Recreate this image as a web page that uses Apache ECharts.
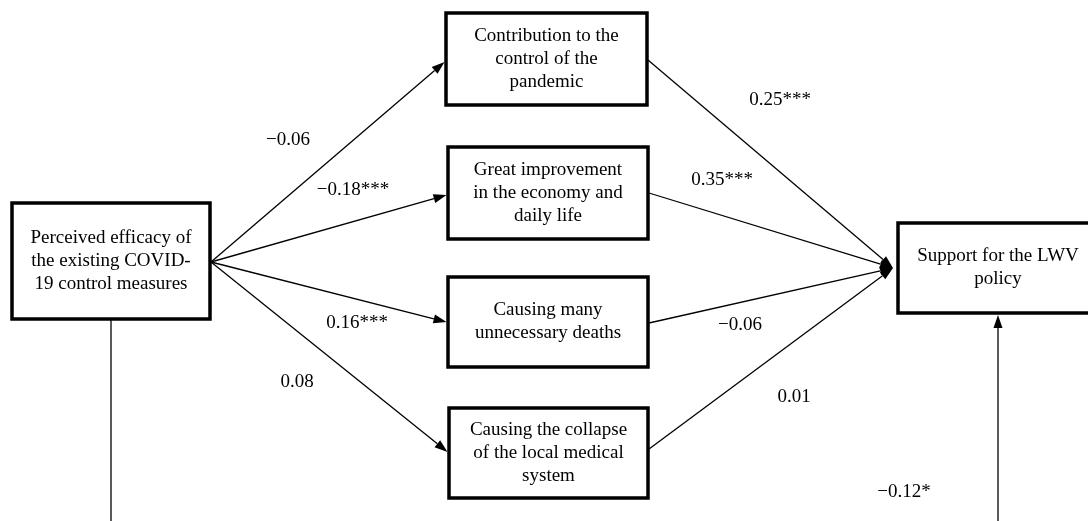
<!DOCTYPE html>
<html>
<head>
<meta charset="utf-8">
<script src="https://cdn.jsdelivr.net/npm/echarts@6/dist/echarts.min.js"></script>
<style>
html, body { margin: 0; padding: 0; background: #fff; }
#main { width: 1088px; height: 521px; }
</style>
</head>
<body>
<div id="main"></div>
<script>
// texts of the path model
var predictor = 'Perceived efficacy of\nthe existing COVID-\n19 control measures';
var mediators = [
    'Contribution to the\ncontrol of the\npandemic',
    'Great improvement\nin the economy and\ndaily life',
    'Causing many\nunnecessary deaths',
    'Causing the collapse\nof the local medical\nsystem'
];
var outcome = 'Support for the LWV\npolicy';

// path coefficients
var pathA = ['\u22120.06', '\u22120.18***', '0.16***', '0.08'];
var pathB = ['0.25***', '0.35***', '\u22120.06', '0.01'];
var directPath = '\u22120.12*';

// layout (px of the 1088x521 frame): [left, top, width, height]
var predBox = [12, 203, 198, 116];
var medBoxes = [[446, 13, 201, 92], [448, 147, 200, 92], [448, 277, 200, 90], [449, 408, 199, 90]];
var outBox = [898, 223, 200, 90];
var fanFrom = [211, 262];
var fanTo = [893, 268];
var medInY = [62, 195, 322, 452];
var medOutY = [60, 193, 323, 449];
var labelA = [[288, 140], [353, 190], [357, 323], [297, 382]];
var labelB = [[780, 100], [722, 180], [740, 325], [794, 397]];
var labelC = [904, 492];
var offBottom = 540;

var font = '19px "Liberation Serif", "Times New Roman", serif';

var boxes = [predBox].concat(medBoxes, [outBox]);
var boxTexts = [predictor].concat(mediators, [outcome]);
var boxData = boxes.map(function (b) {
    return [b[0], b[1], b[0] + b[2], b[1] + b[3]];
});

// edges: [x1, y1, x2, y2, arrow]
var edgeData = [];
medBoxes.forEach(function (b, i) {
    edgeData.push([fanFrom[0], fanFrom[1], b[0] - 1.5, medInY[i], 1]);
    edgeData.push([b[0] + b[2] + 1, medOutY[i], fanTo[0], fanTo[1], 1]);
});
var predX = predBox[0] + predBox[2] / 2;
var outX = outBox[0] + outBox[2] / 2;
edgeData.push([predX, predBox[1] + predBox[3], predX, offBottom, 0]);
edgeData.push([outX, offBottom, outX, outBox[1] + outBox[3] + 2, 1]);

var labelTexts = pathA.concat(pathB, [directPath]);
var labelData = labelA.concat(labelB, [labelC]);

var chart = echarts.init(document.getElementById('main'));

var option = {
    animation: false,
    grid: { left: 0, right: 0, top: 0, bottom: 0 },
    xAxis: { type: 'value', min: 0, max: 1088, show: false },
    yAxis: { type: 'value', min: 0, max: 521, inverse: true, show: false },
    series: [{
        type: 'custom',
        z: 1,
        data: edgeData,
        renderItem: function (params, api) {
            var a = api.coord([api.value(0), api.value(1)]);
            var b = api.coord([api.value(2), api.value(3)]);
            var dx = b[0] - a[0], dy = b[1] - a[1];
            var len = Math.sqrt(dx * dx + dy * dy);
            var ux = dx / len, uy = dy / len;
            var head = api.value(4) ? 13 : 0;
            var half = 4.5;
            var base = [b[0] - ux * head, b[1] - uy * head];
            var children = [{
                type: 'line',
                shape: { x1: a[0], y1: a[1], x2: base[0], y2: base[1] },
                style: { stroke: '#000', lineWidth: 1.3 }
            }];
            if (head) {
                children.push({
                    type: 'polygon',
                    shape: { points: [b, [base[0] - uy * half, base[1] + ux * half], [base[0] + uy * half, base[1] - ux * half]] },
                    style: { fill: '#000' }
                });
            }
            return { type: 'group', children: children };
        }
    }, {
        type: 'custom',
        z: 2,
        data: boxData,
        renderItem: function (params, api) {
            var p1 = api.coord([api.value(0), api.value(1)]);
            var p2 = api.coord([api.value(2), api.value(3)]);
            return {
                type: 'group',
                children: [{
                    type: 'rect',
                    shape: { x: p1[0], y: p1[1], width: p2[0] - p1[0], height: p2[1] - p1[1] },
                    style: { fill: '#fff', stroke: '#000', lineWidth: 3.5 }
                }, {
                    type: 'text',
                    x: (p1[0] + p2[0]) / 2,
                    y: (p1[1] + p2[1]) / 2,
                    style: {
                        text: boxTexts[params.dataIndex],
                        font: font,
                        fill: '#000',
                        align: 'center',
                        verticalAlign: 'middle',
                        lineHeight: 23
                    }
                }]
            };
        }
    }, {
        type: 'custom',
        z: 3,
        data: labelData,
        renderItem: function (params, api) {
            var p = api.coord([api.value(0), api.value(1)]);
            return {
                type: 'text',
                x: p[0],
                y: p[1],
                style: {
                    text: labelTexts[params.dataIndex],
                    font: font,
                    fill: '#000',
                    align: 'center',
                    verticalAlign: 'middle'
                }
            };
        }
    }]
};

chart.setOption(option);
</script>
</body>
</html>
